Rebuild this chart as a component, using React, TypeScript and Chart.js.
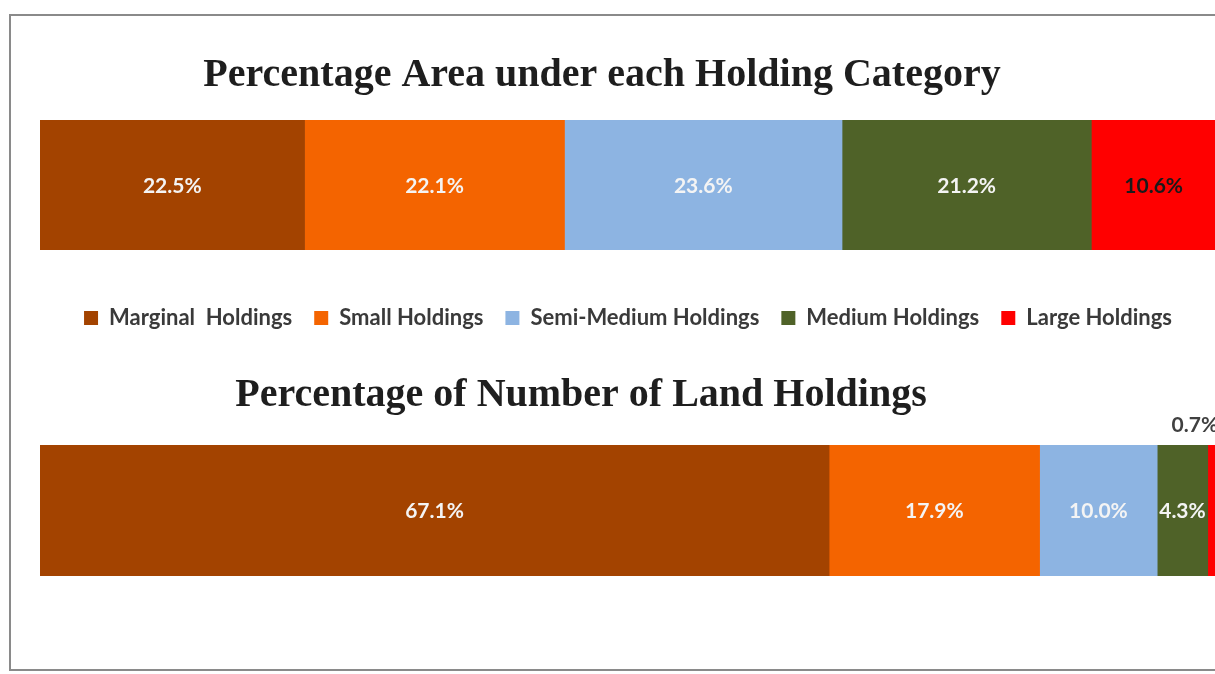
import React, { useEffect, useRef } from "react";
import { Chart, registerables } from "chart.js";

Chart.register(...registerables);

const categories = [
  "Marginal  Holdings",
  "Small Holdings",
  "Semi-Medium Holdings",
  "Medium Holdings",
  "Large Holdings",
];
const seriesColors = ["#A34300", "#F46400", "#8DB4E2", "#4F6228", "#FF0000"];
const areaPercent = [22.5, 22.1, 23.6, 21.2, 10.6];
const holdingsPercent = [67.1, 17.9, 10.0, 4.3, 0.7];
const areaLabelColors = ["#F4F4F4", "#F4F4F4", "#F4F4F4", "#F4F4F4", "#1A1A1A"];
const holdingsLabelColors = ["#F4F4F4", "#F4F4F4", "#F4F4F4", "#F4F4F4", "#404040"];
const holdingsLabelOutside = [false, false, false, false, true];
const areaTitle = "Percentage Area under each Holding Category";
const holdingsTitle = "Percentage of Number of Land Holdings";

const TITLE_FONT = "bold 40px 'Liberation Serif', serif";
const LABEL_FONT = "bold 21px Lato, 'Open Sans', sans-serif";

function makeTitlePlugin(text: string, x: number, y: number) {
  return {
    id: "placedTitle",
    afterDraw(chart: any) {
      const ctx = chart.ctx;
      ctx.save();
      ctx.font = TITLE_FONT;
      ctx.fillStyle = "#1E1E1E";
      ctx.textAlign = "center";
      ctx.textBaseline = "middle";
      ctx.fillText(text, x, y);
      ctx.restore();
    },
  };
}

function makeSegmentLabels(colors: string[], outside: boolean[], outsideShift: number) {
  return {
    id: "segmentLabels",
    afterDatasetsDraw(chart: any) {
      const ctx = chart.ctx;
      ctx.save();
      ctx.font = LABEL_FONT;
      ctx.textAlign = "center";
      ctx.textBaseline = "middle";
      chart.data.datasets.forEach((ds: any, i: number) => {
        const meta = chart.getDatasetMeta(i);
        meta.data.forEach((el: any, j: number) => {
          const p = el.getProps(["x", "y", "base", "height"], true);
          const v = ds.data[j] as number;
          let cx = (p.x + p.base) / 2;
          let cy = p.y + 1;
          if (outside[i]) {
            cy = p.y - p.height / 2 - 20;
            cx += outsideShift;
          }
          ctx.fillStyle = colors[i];
          ctx.fillText(v.toFixed(1) + "%", cx, cy);
        });
      });
      ctx.restore();
    },
  };
}

function buildDatasets(values: number[]) {
  return categories.map((c, i) => ({
    label: c,
    data: [values[i]],
    backgroundColor: seriesColors[i],
    borderWidth: 0,
    barPercentage: 1,
    categoryPercentage: 1,
  }));
}

export default function App() {
  const ref1 = useRef<HTMLCanvasElement>(null);
  const ref2 = useRef<HTMLCanvasElement>(null);

  useEffect(() => {
    const c1 = new Chart(ref1.current as HTMLCanvasElement, {
      type: "bar",
      data: { labels: [""], datasets: buildDatasets(areaPercent) as any },
      options: {
        indexAxis: "y",
        responsive: false,
        animation: false,
        devicePixelRatio: 1,
        layout: { padding: { left: 40, right: 84, top: 120, bottom: 0 } },
        scales: {
          x: {
            stacked: true,
            min: 0,
            max: 100,
            display: true,
            grid: { display: false },
            border: { display: false },
            ticks: { display: false },
            afterFit: (s: any) => {
              s.height = 35;
            },
          },
          y: { stacked: true, display: false },
        },
        plugins: {
          legend: {
            display: true,
            position: "bottom",
            labels: {
              boxWidth: 14,
              boxHeight: 14,
              padding: 22,
              color: "#3A3A3A",
              font: { family: "Lato, 'Open Sans', sans-serif", size: 22, weight: "bold" },
            },
          },
          tooltip: { enabled: false },
          title: { display: false },
        },
      } as any,
      plugins: [makeTitlePlugin(areaTitle, 602, 76), makeSegmentLabels(areaLabelColors, [false, false, false, false, false], 0)],
    });

    const c2 = new Chart(ref2.current as HTMLCanvasElement, {
      type: "bar",
      data: { labels: [""], datasets: buildDatasets(holdingsPercent) as any },
      options: {
        indexAxis: "y",
        responsive: false,
        animation: false,
        devicePixelRatio: 1,
        layout: { padding: { left: 40, right: 84, top: 105, bottom: 10 } },
        scales: {
          x: { stacked: true, min: 0, max: 100, display: false },
          y: { stacked: true, display: false },
        },
        plugins: {
          legend: { display: false },
          tooltip: { enabled: false },
          title: { display: false },
        },
      } as any,
      plugins: [makeTitlePlugin(holdingsTitle, 581, 56), makeSegmentLabels(holdingsLabelColors, holdingsLabelOutside, -17)],
    });

    return () => {
      c1.destroy();
      c2.destroy();
    };
  }, []);

  return (
    <div
      style={{
        position: "fixed",
        left: 0,
        top: 0,
        width: 1215,
        height: 674,
        overflow: "hidden",
        background: "#ffffff",
      }}
    >
      <div
        style={{
          position: "absolute",
          left: 9,
          top: 14,
          width: 1400,
          height: 653,
          border: "2px solid #8A8A8A",
        }}
      />
      <canvas
        ref={ref1}
        width={1300}
        height={339}
        style={{ position: "absolute", left: 0, top: 0, width: 1300, height: 339 }}
      />
      <canvas
        ref={ref2}
        width={1300}
        height={246}
        style={{ position: "absolute", left: 0, top: 340, width: 1300, height: 246 }}
      />
    </div>
  );
}
